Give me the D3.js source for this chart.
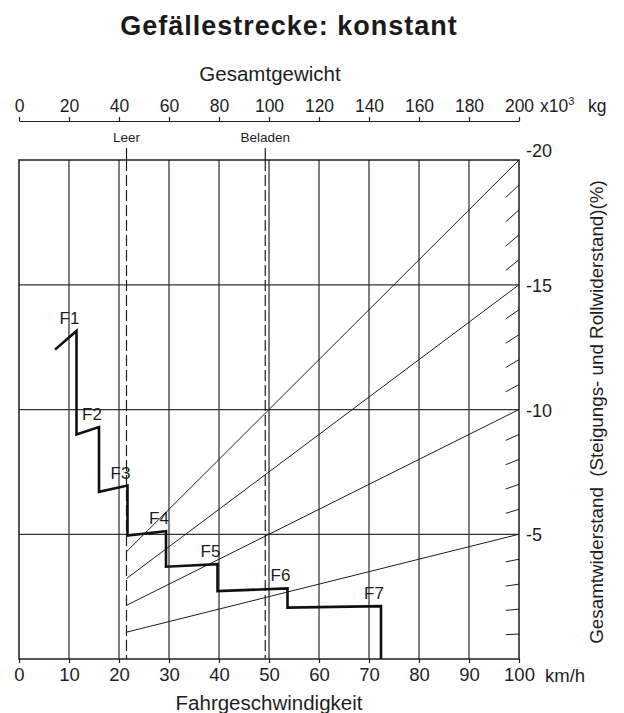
<!DOCTYPE html>
<html>
<head>
<meta charset="utf-8">
<script src="https://cdn.jsdelivr.net/npm/d3@7"></script>
<style>
  html, body { margin: 0; padding: 0; background: #fff; }
  svg { display: block; font-family: "Liberation Sans", Arial, Helvetica, sans-serif; }
</style>
</head>
<body>
<svg id="chart" width="624" height="713"></svg>
<script>
// Fahrgeschwindigkeit (km/h) ticks along the bottom
const speedTicks = [0, 10, 20, 30, 40, 50, 60, 70, 80, 90, 100];
// Gesamtgewicht (x10^3 kg) ticks along the top
const weightTicks = [0, 20, 40, 60, 80, 100, 120, 140, 160, 180, 200];
// Gesamtwiderstand (%) labelled on the right
const resistanceTicks = [-20, -15, -10, -5];
// Weight markers
const weightMarkers = ["Leer", "Beladen"];
const weightMarkerValues = [43, 98.5];
// Resistance lines: value reached at 200 t
const resistanceLines = [-20, -15, -10, -5];
// Short stubs for the intermediate percentages
const resistanceStubs = [-19, -18, -17, -16, -14, -13, -12, -11, -9, -8, -7, -6, -4, -3, -2, -1];

// Retarder curve, one step per gear
const gearNames = ["F1", "F2", "F3", "F4", "F5", "F6", "F7"];
const curveSpeed = [7.2, 11.5, 11.5, 16.0, 16.0, 21.7, 21.7, 29.4, 29.4, 39.7, 39.7, 53.7, 53.7, 72.4, 72.4];
const curveGrade = [-12.4, -13.15, -9.0, -9.3, -6.7, -6.95, -4.95, -5.12, -3.7, -3.8, -2.72, -2.83, -2.06, -2.12, 0];
// Index of the point each gear label sits at
const gearLabelIndex = [1, 3, 5, 7, 9, 11, 13];

const svg = d3.select("#chart");
const plotL = 19, plotR = 519, plotT = 160, plotB = 659;

const x = d3.scaleLinear().domain([0, 100]).range([plotL, plotR]);
const w = d3.scaleLinear().domain([0, 200]).range([plotL, plotR]);
const y = d3.scaleLinear().domain([0, -20]).range([plotB, plotT]);

const ink = "#1e1e1e";

// Title
svg.append("text")
  .attr("x", 289).attr("y", 35)
  .attr("text-anchor", "middle")
  .attr("font-size", 27).attr("font-weight", "bold")
  .attr("letter-spacing", 1)
  .attr("fill", "#1a1a1a")
  .text("Gefällestrecke: konstant");

// Top weight axis
const topAxisY = 121;
const gTop = svg.append("g").attr("transform", `translate(0,${topAxisY})`)
  .call(d3.axisTop(w).tickValues(weightTicks).tickSize(4).tickPadding(5).tickSizeOuter(0));
gTop.select(".domain").attr("stroke", ink).attr("stroke-width", 1.2);
gTop.selectAll(".tick line").attr("stroke", ink).attr("stroke-width", 1.2);
gTop.selectAll(".tick text").attr("font-size", 17.5).attr("fill", ink).attr("font-family", null);

const unit = svg.append("text")
  .attr("x", 540).attr("y", 112)
  .attr("font-size", 17.5).attr("fill", ink);
unit.append("tspan").text("x10");
unit.append("tspan").attr("font-size", 11).attr("dy", -7).text("3");
unit.append("tspan").attr("x", 588).attr("dy", 7).text("kg");

svg.append("text")
  .attr("x", 270).attr("y", 80.5)
  .attr("text-anchor", "middle")
  .attr("font-size", 20.5).attr("fill", ink)
  .text("Gesamtgewicht");

// Grid
const grid = svg.append("g");
grid.selectAll("line.v")
  .data(speedTicks.slice(1, -1))
  .join("line")
  .attr("class", "v")
  .attr("x1", d => x(d)).attr("x2", d => x(d))
  .attr("y1", plotT).attr("y2", plotB)
  .attr("stroke", "#333").attr("stroke-width", 1.25);
grid.selectAll("line.h")
  .data(resistanceTicks.slice(1))
  .join("line")
  .attr("class", "h")
  .attr("x1", plotL).attr("x2", plotR)
  .attr("y1", d => y(d)).attr("y2", d => y(d))
  .attr("stroke", "#333").attr("stroke-width", 1.25);

// Resistance lines through the origin, drawn from the empty weight onward
const wEmpty = weightMarkerValues[0];
svg.append("g").selectAll("line")
  .data(resistanceLines)
  .join("line")
  .attr("x1", w(wEmpty)).attr("y1", d => y(d * wEmpty / 200))
  .attr("x2", w(200)).attr("y2", d => y(d))
  .attr("stroke", ink).attr("stroke-width", 1);

svg.append("g").selectAll("line")
  .data(resistanceStubs)
  .join("line")
  .attr("x1", w(194.7)).attr("y1", d => y(d * 194.7 / 200))
  .attr("x2", w(200)).attr("y2", d => y(d))
  .attr("stroke", ink).attr("stroke-width", 1);

// Weight markers: tick above the frame, dashed line through it
const markers = svg.append("g");
weightMarkers.forEach((name, i) => {
  const mx = w(weightMarkerValues[i]);
  markers.append("text")
    .attr("x", mx).attr("y", 141.5)
    .attr("text-anchor", "middle")
    .attr("font-size", 13.5).attr("fill", ink)
    .text(name);
  markers.append("line")
    .attr("x1", mx).attr("x2", mx).attr("y1", 148).attr("y2", plotT)
    .attr("stroke", ink).attr("stroke-width", 1.2);
  markers.append("line")
    .attr("x1", mx).attr("x2", mx).attr("y1", plotT).attr("y2", plotB)
    .attr("stroke", ink).attr("stroke-width", 1.2)
    .attr("stroke-dasharray", "11,4");
});

// Frame
svg.append("rect")
  .attr("x", plotL).attr("y", plotT)
  .attr("width", plotR - plotL).attr("height", plotB - plotT)
  .attr("fill", "none").attr("stroke", ink).attr("stroke-width", 1.5);

// Bottom speed axis
const gBottom = svg.append("g").attr("transform", `translate(0,${plotB})`)
  .call(d3.axisBottom(x).tickValues(speedTicks).tickSize(4).tickPadding(5).tickSizeOuter(0));
gBottom.select(".domain").remove();
gBottom.selectAll(".tick line").attr("stroke", ink).attr("stroke-width", 1.2);
gBottom.selectAll(".tick text").attr("font-size", 18.5).attr("fill", ink).attr("font-family", null);

svg.append("text")
  .attr("x", 545).attr("y", 682)
  .attr("font-size", 18.5).attr("fill", ink)
  .text("km/h");

svg.append("text")
  .attr("x", 269).attr("y", 710)
  .attr("text-anchor", "middle")
  .attr("font-size", 20.5).attr("fill", ink)
  .text("Fahrgeschwindigkeit");

// Right resistance labels
svg.append("g").selectAll("text")
  .data(resistanceTicks)
  .join("text")
  .attr("x", 526)
  .attr("y", d => y(d) + (d === -20 ? -3 : 7))
  .attr("font-size", 18).attr("fill", ink)
  .text(d => d);

svg.append("text")
  .attr("transform", `translate(603,412) rotate(-90)`)
  .attr("text-anchor", "middle")
  .attr("font-size", 18.8).attr("fill", ink)
  .attr("xml:space", "preserve")
  .style("white-space", "pre")
  .text("Gesamtwiderstand  (Steigungs- und Rollwiderstand)(%)");

// Retarder curve
const pts = curveSpeed.map((s, i) => [s, curveGrade[i]]);
svg.append("path")
  .datum(pts)
  .attr("d", d3.line().x(d => x(d[0])).y(d => y(d[1])))
  .attr("fill", "none")
  .attr("stroke", "#111")
  .attr("stroke-width", 2.6)
  .attr("stroke-linejoin", "miter");

svg.append("g").selectAll("text")
  .data(gearNames)
  .join("text")
  .attr("x", (d, i) => x(curveSpeed[gearLabelIndex[i]]) - 7)
  .attr("y", (d, i) => y(curveGrade[gearLabelIndex[i]]) - 7)
  .attr("text-anchor", "middle")
  .attr("font-size", 17).attr("fill", ink)
  .text(d => d);
</script>
</body>
</html>
